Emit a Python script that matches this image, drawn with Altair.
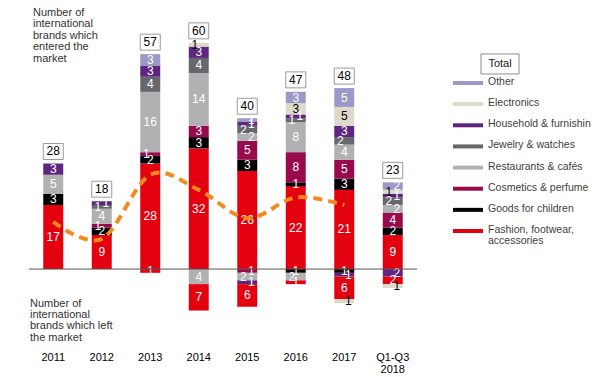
import altair as alt
import pandas as pd

FONT = "Liberation Sans"

years = ["2011", "2012", "2013", "2014", "2015", "2016", "2017", "Q1-Q3 2018"]

# stacking order (bottom -> top) for brands which entered
categories = ["Fashion, footwear, accessories", "Goods for children", "Cosmetics & perfume",
              "Restaurants & cafés", "Jewelry & watches", "Household & furnishin",
              "Electronics", "Other"]
colors = ["#E3000F", "#000000", "#990A4C", "#B1B1B3", "#67686B", "#5E2680", "#DDD9CB", "#9A99C8"]

# brands which entered the market
fashion_in = [17, 9, 28, 32, 26, 22, 21, 9]
children_in = [3, 2, 2, 3, 3, 1, 3, 2]
cosmetics_in = [0, 1, 1, 3, 5, 8, 5, 4]
restaurants_in = [5, 4, 16, 14, 2, 8, 4, 2]
jewelry_in = [0, 1, 4, 4, 2, 1, 2, 2]
household_in = [3, 1, 3, 3, 1, 1, 3, 1]
electronics_in = [0, 0, 0, 1, 0, 3, 5, 1]
other_in = [0, 0, 3, 0, 1, 3, 5, 2]

# brands which left the market
fashion_out = [0, 0, 1, 7, 6, 1, 6, 2]
children_out = [0, 0, 0, 0, 0, 1, 1, 0]
cosmetics_out = [0, 0, 0, 0, 1, 0, 0, 0]
restaurants_out = [0, 0, 0, 4, 2, 2, 0, 0]
household_out = [0, 0, 0, 0, 1, 0, 1, 2]
electronics_out = [0, 0, 0, 0, 0, 0, 1, 1]

totals = [28, 18, 57, 60, 40, 47, 48, 23]

line_years = ["2011", "2012", "2013", "2014", "2015", "2016", "2017"]
line_values = [12.5, 8, 25, 21, 13.5, 19, 17]

legend_order = ["Other", "Electronics", "Household & furnishin", "Jewelry & watches",
                "Restaurants & cafés", "Cosmetics & perfume", "Goods for children",
                "Fashion, footwear, accessories"]
legend_labels = ["Other", "Electronics", "Household & furnishin", "Jewelry & watches",
                 "Restaurants & cafés", "Cosmetics & perfume", "Goods for children",
                 "Fashion, footwear,\naccessories"]

note_top = "Number  of\ninternational\nbrands which\nentered the\nmarket"
note_bottom = "Number  of\ninternational\nbrands which left\nthe market"

# ---- build tables
entered = [fashion_in, children_in, cosmetics_in, restaurants_in, jewelry_in,
           household_in, electronics_in, other_in]
left = {
    "Goods for children": children_out,
    "Cosmetics & perfume": cosmetics_out,
    "Restaurants & cafés": restaurants_out,
    "Household & furnishin": household_out,
    "Fashion, footwear, accessories": fashion_out,
    "Electronics": electronics_out,
}
rows = []
for ci, (cat, vals) in enumerate(zip(categories, entered)):
    for y, v in zip(years, vals):
        if v:
            rows.append({"year": y, "cat": cat, "value": v, "ord": ci, "lab": v})
for oi, (cat, vals) in enumerate(left.items()):
    for y, v in zip(years, vals):
        if v:
            rows.append({"year": y, "cat": cat, "value": -v, "ord": 20 + oi, "lab": v})
df = pd.DataFrame(rows)
df_tot = pd.DataFrame({"year": years, "total": totals})
df_line = pd.DataFrame({"year": line_years, "v": line_values})
df_leg = pd.DataFrame({"cat": legend_order, "label": legend_labels})

yscale = alt.Scale(domain=[-20, 65], nice=False, zero=False)
xdef = alt.X("year:N", sort=years,
             scale=alt.Scale(domain=years, paddingInner=0.588, paddingOuter=0.294),
             axis=alt.Axis(title=None, domain=False, ticks=False, labelPadding=7,
                           labelFontSize=11, labelColor="#000000", labelFont=FONT,
                           labelAngle=0, labelLineHeight=12,
                           labelExpr="datum.label == 'Q1-Q3 2018' ? ['Q1-Q3', '2018'] : datum.label"))
cscale = alt.Scale(domain=categories, range=colors)

base = alt.Chart(df).transform_stack(
    stack="value", groupby=["year"], sort=[alt.SortField("ord", order="ascending")],
    as_=["v0", "v1"]
).transform_calculate(
    mid="(datum.v0 + datum.v1) / 2",
    small="datum.lab <= 2 && datum.cat != 'Goods for children' && datum.cat != 'Fashion, footwear, accessories' ? (datum.ord % 2 == 0 ? 'L' : 'R') : 'C'",
)

bars = base.mark_bar().encode(
    x=xdef,
    y=alt.Y("v0:Q", scale=yscale, axis=None),
    y2="v1:Q",
    color=alt.Color("cat:N", scale=cscale, legend=None),
)
label_color = alt.condition(alt.datum.cat == "Electronics", alt.value("#000000"), alt.value("#FFFFFF"))
label_layers = []
for key, dx in [("C", 0), ("L", -4), ("R", 4)]:
    label_layers.append(
        base.transform_filter(alt.datum.small == key).mark_text(font=FONT, fontSize=12, dx=dx).encode(
            x=xdef,
            y=alt.Y("mid:Q", scale=yscale, axis=None),
            text="lab:Q",
            color=label_color,
        )
    )

zero = alt.Chart(pd.DataFrame({"z": [0]})).mark_rule(color="#555555", strokeWidth=1).encode(
    y=alt.Y("z:Q", scale=yscale, axis=None))

box_shape = "M-1,-0.8L1,-0.8L1,0.8L-1,0.8Z"
tot_box = alt.Chart(df_tot).mark_point(shape=box_shape, size=400, filled=True, fill="#FFFFFF",
                                       stroke="#9A9A9A", strokeWidth=1, opacity=1, yOffset=-12).encode(
    x=xdef, y=alt.Y("total:Q", scale=yscale, axis=None))
tot_txt = alt.Chart(df_tot).mark_text(font=FONT, fontSize=12, color="#000000", yOffset=-12).encode(
    x=xdef, y=alt.Y("total:Q", scale=yscale, axis=None), text="total:Q")

line = alt.Chart(df_line).mark_line(interpolate="cardinal", strokeDash=[9, 6], strokeWidth=4,
                                    color="#F28A1E", strokeCap="butt").encode(
    x=xdef, y=alt.Y("v:Q", scale=yscale, axis=None))

lscale = alt.Scale(type="point", domain=legend_order, range=[59, 207], padding=0)
leg_sw = alt.Chart(df_leg).mark_rule(strokeWidth=4).encode(
    x=alt.value(424), x2=alt.value(454),
    y=alt.Y("cat:N", scale=lscale, axis=None),
    color=alt.Color("cat:N", scale=cscale, legend=None))
leg_tx = alt.Chart(df_leg).mark_text(font=FONT, fontSize=10.5, color="#404040", align="left",
                                     baseline="top", dy=-6, lineBreak="\n", lineHeight=11).encode(
    x=alt.value(459),
    y=alt.Y("cat:N", scale=lscale, axis=None),
    text="label:N")

leg_box = alt.Chart(pd.DataFrame({"t": ["Total"]})).mark_point(
    shape="M-1,-0.526L1,-0.526L1,0.526L-1,0.526Z", size=1444, filled=True, fill="#FFFFFF",
    stroke="#8C8C8C", strokeWidth=1, opacity=1).encode(x=alt.value(471), y=alt.value(40))
leg_box_tx = alt.Chart(pd.DataFrame({"t": ["Total"]})).mark_text(
    font=FONT, fontSize=11, color="#202020").encode(x=alt.value(471), y=alt.value(40), text="t:N")

notes = pd.DataFrame({"t": [note_top, note_bottom]})
n1 = alt.Chart(notes.iloc[[0]]).mark_text(font=FONT, fontSize=11, color="#333333", align="left",
                                           baseline="top", lineBreak="\n", lineHeight=11.4).encode(
    x=alt.value(4), y=alt.value(-17), text="t:N")
n2 = alt.Chart(notes.iloc[[1]]).mark_text(font=FONT, fontSize=11, color="#333333", align="left",
                                           baseline="top", lineBreak="\n", lineHeight=11.2).encode(
    x=alt.value(1), y=alt.value(274), text="t:N")

chart = alt.layer(bars, *label_layers, zero, line, tot_box, tot_txt, leg_sw, leg_tx, leg_box,
                  leg_box_tx, n1, n2).resolve_scale(y="independent").properties(
    width=388, height=320.45,
    background="#FFFFFF",
    autosize=alt.AutoSizeParams(type="none"),
    padding={"left": 29, "top": 24, "right": 183, "bottom": 32.55},
).configure_view(stroke=None)

chart.save("out.html", embed_options={"renderer": "svg", "actions": False})
